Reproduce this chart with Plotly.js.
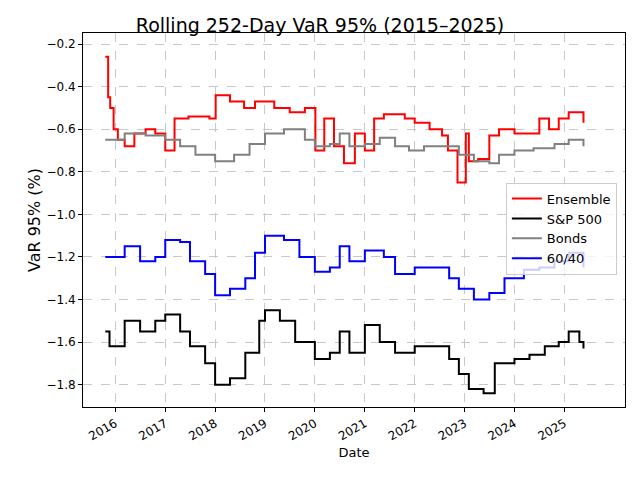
<!DOCTYPE html>
<html>
<head>
<script src="https://cdn.plot.ly/plotly-3.0.1.min.js"></script>
<style>body{margin:0}</style>
</head>
<body>
<div id="chart" style="width:640px;height:480px"></div>
<script>
'use strict';

// values (VaR 95 %, in %)
const ensDates = ['2015-10-20','2015-11-10','2015-11-25','2015-12-20','2016-01-20','2016-03-10','2016-05-20','2016-08-10','2016-10-20','2017-01-01','2017-03-10','2017-06-20','2017-11-20','2018-01-05','2018-04-20','2018-08-01','2018-10-20','2019-03-10','2019-07-01','2019-10-20','2020-01-05','2020-03-10','2020-05-20','2020-08-01','2020-10-20','2021-01-01','2021-03-10','2021-05-20','2021-10-20','2022-01-01','2022-04-20','2022-07-20','2022-09-01','2022-11-10','2023-01-10','2023-02-01','2023-04-10','2023-07-01','2023-09-10','2024-01-01','2024-05-20','2024-07-01','2024-09-10','2024-11-20','2025-02-01','2025-05-20'];
const ensVals  = [-0.26,-0.45,-0.50,-0.60,-0.65,-0.68,-0.62,-0.60,-0.62,-0.70,-0.55,-0.54,-0.55,-0.44,-0.47,-0.50,-0.47,-0.50,-0.52,-0.50,-0.70,-0.55,-0.68,-0.76,-0.62,-0.70,-0.55,-0.53,-0.55,-0.57,-0.60,-0.63,-0.70,-0.85,-0.62,-0.75,-0.74,-0.63,-0.60,-0.62,-0.62,-0.55,-0.60,-0.55,-0.52,-0.57];

const bondDates = ['2015-10-20','2016-03-10','2016-08-10','2017-01-01','2017-04-20','2017-08-10','2018-01-01','2018-05-20','2018-09-10','2019-01-01','2019-05-20','2019-10-20','2020-01-01','2020-04-20','2020-07-01','2020-09-10','2021-01-01','2021-04-20','2021-08-10','2021-11-20','2022-03-10','2022-08-10','2022-11-20','2023-03-10','2023-07-01','2023-09-10','2024-01-01','2024-05-20','2024-10-20','2025-02-01','2025-05-20'];
const bondVals  = [-0.65,-0.62,-0.63,-0.65,-0.68,-0.72,-0.75,-0.72,-0.67,-0.62,-0.60,-0.65,-0.68,-0.67,-0.62,-0.68,-0.67,-0.64,-0.68,-0.70,-0.68,-0.68,-0.72,-0.75,-0.76,-0.72,-0.70,-0.69,-0.67,-0.65,-0.68];

const sixtyDates = ['2015-10-20','2016-03-10','2016-07-01','2016-10-20','2017-01-01','2017-04-20','2017-07-01','2017-10-20','2018-01-01','2018-04-20','2018-08-10','2018-10-20','2019-01-01','2019-05-20','2019-09-10','2020-01-01','2020-04-20','2020-07-01','2020-09-10','2021-01-01','2021-05-20','2021-08-10','2022-01-01','2022-05-20','2022-09-10','2022-11-20','2023-03-10','2023-07-01','2023-10-20','2024-03-10','2024-07-01','2024-10-20','2025-02-01','2025-05-20'];
const sixtyVals  = [-1.20,-1.15,-1.22,-1.20,-1.12,-1.13,-1.22,-1.28,-1.38,-1.35,-1.30,-1.18,-1.10,-1.12,-1.20,-1.27,-1.25,-1.15,-1.22,-1.17,-1.20,-1.28,-1.25,-1.25,-1.30,-1.35,-1.40,-1.37,-1.30,-1.26,-1.25,-1.22,-1.18,-1.25];

const spDates = ['2015-10-20','2015-11-20','2016-03-10','2016-07-01','2016-10-20','2017-01-01','2017-04-20','2017-07-01','2017-10-20','2018-01-01','2018-04-20','2018-08-10','2018-11-20','2019-01-01','2019-04-20','2019-08-10','2020-01-01','2020-04-20','2020-07-01','2020-09-10','2021-01-01','2021-04-20','2021-08-10','2022-01-01','2022-05-20','2022-09-10','2022-11-20','2023-02-01','2023-05-20','2023-08-10','2024-01-01','2024-04-20','2024-08-10','2024-11-20','2025-02-01','2025-04-20','2025-05-20'];
const spVals  = [-1.55,-1.62,-1.50,-1.55,-1.50,-1.47,-1.55,-1.62,-1.70,-1.80,-1.77,-1.65,-1.50,-1.45,-1.50,-1.60,-1.68,-1.65,-1.55,-1.65,-1.52,-1.60,-1.65,-1.62,-1.62,-1.68,-1.75,-1.82,-1.84,-1.70,-1.68,-1.66,-1.62,-1.60,-1.55,-1.60,-1.63];

const yearTicks = ['2016-01-01','2017-01-01','2018-01-01','2019-01-01','2020-01-01','2021-01-01','2022-01-01','2023-01-01','2024-01-01','2025-01-01'];

const seriesNames = ['Ensemble', 'S&P 500', 'Bonds', '60/40'];
const seriesColors = ['red', 'black', 'grey', 'blue'];
const seriesX = [ensDates, spDates, bondDates, sixtyDates];
const seriesY = [ensVals, spVals, bondVals, sixtyVals];

const data = seriesNames.map(function(name, i) {
	return {
		x: seriesX[i], y: seriesY[i], name: name, type: 'scatter', mode: 'lines',
		line: {color: seriesColors[i], width: 2, shape: 'hv'}
	};
});

const axisStyle = {
	showline: true, mirror: true, linecolor: 'black', linewidth: 1,
	ticks: 'outside', ticklen: 4, tickcolor: 'black',
	showgrid: true, gridcolor: '#c8c8c8', griddash: 'dash', zeroline: false
};

const layout = {
	width: 640, height: 480,
	font: {family: 'DejaVu Sans', size: 12, color: 'black'},
	paper_bgcolor: 'white', plot_bgcolor: 'white',
	margin: {l: 83, r: 15, t: 33, b: 73},
	title: {text: 'Rolling 252-Day VaR 95% (2015–2025)', font: {size: 19}, x: 0.5, y: 0.962, xanchor: 'center'},
	xaxis: Object.assign({}, axisStyle, {
		type: 'date', range: ['2015-05-10', '2026-03-20'],
		tickvals: yearTicks, tickformat: '%Y', tickangle: -30,
		title: {text: 'Date', font: {size: 13}}
	}),
	yaxis: Object.assign({}, axisStyle, {
		range: [-1.905, -0.148], dtick: 0.2, tickformat: '.1f',
		title: {text: 'VaR 95% (%)', font: {size: 16}}
	}),
	legend: {
		x: 0.985, y: 0.6, xanchor: 'right', yanchor: 'top',
		bgcolor: 'rgba(255,255,255,0.8)', bordercolor: '#cccccc', borderwidth: 1,
		font: {size: 13}
	}
};

Plotly.newPlot('chart', data, layout, {staticPlot: true});
</script>
</body>
</html>
